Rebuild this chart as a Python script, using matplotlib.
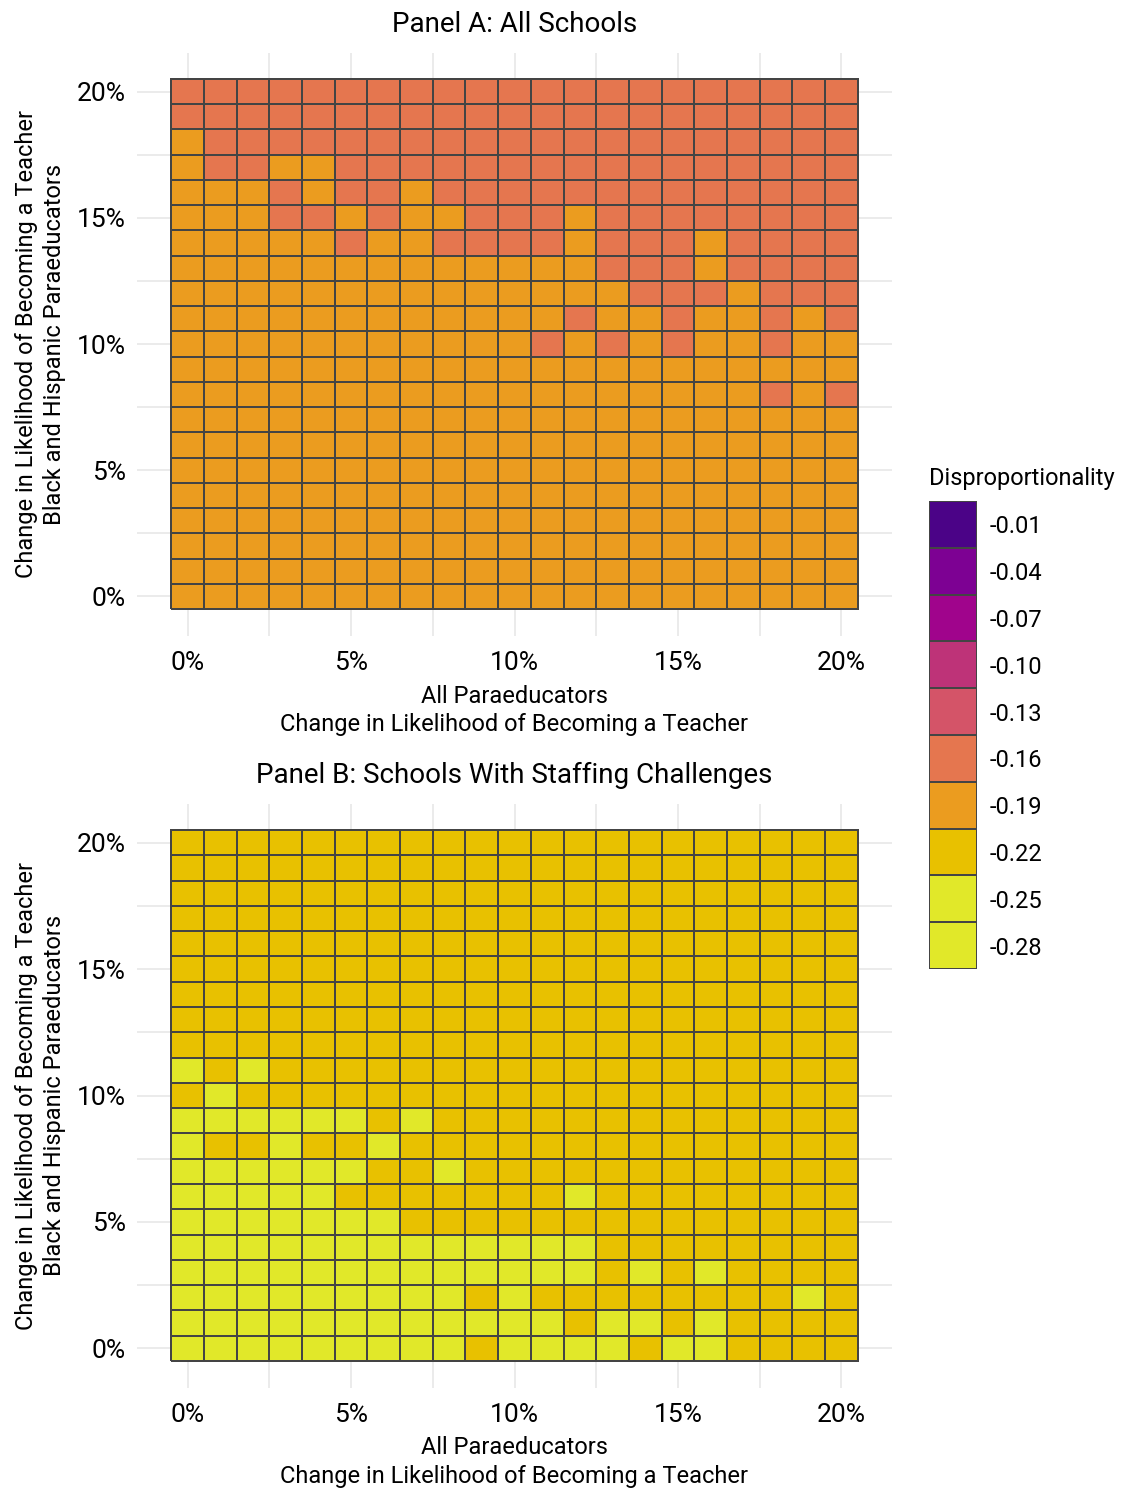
import numpy as np
import matplotlib
matplotlib.use("Agg")
import matplotlib.pyplot as plt
from matplotlib.colors import ListedColormap, BoundaryNorm
from matplotlib.ticker import FixedLocator, FuncFormatter

plt.rcParams["font.family"] = ["Roboto", "DejaVu Sans"]

# disproportionality levels, low to high, and their fill colours
levels = [-0.28, -0.25, -0.22, -0.19, -0.16, -0.13, -0.10, -0.07, -0.04, -0.01]
level_colors = ["#E1E829", "#E1E829", "#E8C100", "#EB9C1F", "#E5764F",
                "#D45468", "#BE3378", "#A0048C", "#7D0193", "#4B0387"]

# change in likelihood, percentage points (x: all paras, y: Black/Hispanic paras)
pct_steps = list(range(0, 21))

# each string is one row (y = 20% at top down to 0%), each digit an index into levels
panel_a_rows = [
    "444444444444444444444",
    "444444444444444444444",
    "344444444444444444444",
    "344334444444444444444",
    "333434434444444444444",
    "333443433444344444444",
    "333334334444344434444",
    "333333333333344434444",
    "333333333333334443444",
    "333333333333433433434",
    "333333333334343433433",
    "333333333333333333333",
    "333333333333333333434",
    "333333333333333333333",
    "333333333333333333333",
    "333333333333333333333",
    "333333333333333333333",
    "333333333333333333333",
    "333333333333333333333",
    "333333333333333333333",
    "333333333333333333333",
]

panel_b_rows = [
    "222222222222222222222",
    "222222222222222222222",
    "222222222222222222222",
    "222222222222222222222",
    "222222222222222222222",
    "222222222222222222222",
    "222222222222222222222",
    "222222222222222222222",
    "222222222222222222222",
    "121222222222222222222",
    "212222222222222222222",
    "111111212222222222222",
    "122122122222222222222",
    "111111221222222222222",
    "111112222222122222222",
    "111111122222222222222",
    "111111111111122222222",
    "111111111111121212222",
    "111111111212222222212",
    "111111111111211212222",
    "111111111211112112222",
]

panel_titles = ["Panel A: All Schools", "Panel B: Schools With Staffing Challenges"]

x_title = "All Paraeducators\nChange in Likelihood of Becoming a Teacher"
y_title = "Change in Likelihood of Becoming a Teacher\nBlack and Hispanic Paraeducators"


def rows_to_grid(rows):
    # flip so that the first array row is y = 0%
    idx = np.array([[int(c) for c in r] for r in rows[::-1]])
    return np.array(levels)[idx]


cmap = ListedColormap(level_colors)
bounds = [levels[0] - 0.015] + [l + 0.015 for l in levels]
norm = BoundaryNorm(bounds, cmap.N)

W, H = 1123, 1490
fig = plt.figure(figsize=(W / 100, H / 100), dpi=100)

grid_col = "#EBEBEB"
edge_col = "#444444"
edges = np.arange(-0.5, 21.5, 1.0)
pct_fmt = FuncFormatter(lambda v, p: f"{v:.0f}%")

panel_boxes = [(137, 52.5, 892, 635.5), (137, 803.5, 892, 1387.5)]

for rows, title, (x0, y0, x1, y1) in zip([panel_a_rows, panel_b_rows], panel_titles, panel_boxes):
    ax = fig.add_axes([x0 / W, 1 - y1 / H, (x1 - x0) / W, (y1 - y0) / H])
    ax.pcolormesh(edges, edges, rows_to_grid(rows), cmap=cmap, norm=norm,
                  edgecolors=edge_col, linewidth=1.3, zorder=2)
    ax.set_xlim(-1.55, 21.55)
    ax.set_ylim(-1.55, 21.55)

    for a in (ax.xaxis, ax.yaxis):
        a.set_major_locator(FixedLocator([0, 5, 10, 15, 20]))
        a.set_minor_locator(FixedLocator([2.5, 7.5, 12.5, 17.5]))
        a.set_major_formatter(pct_fmt)
    ax.grid(True, which="both", color=grid_col, linewidth=1.4, zorder=0)
    ax.set_axisbelow(True)
    for s in ax.spines.values():
        s.set_visible(False)
    ax.tick_params(which="both", length=0, labelsize=19, colors="black")
    ax.tick_params(axis="x", pad=11)
    ax.tick_params(axis="y", pad=8)

    ax.set_xlabel(x_title, fontsize=17, labelpad=7, linespacing=1.28)
    ax.set_ylabel(y_title, fontsize=17, linespacing=1.28)
    ax.yaxis.set_label_coords(-0.094, 0.5)
    ax.set_title(title, fontsize=20, pad=15)

# legend keys stacked as a column, -0.01 at the top
kx0, ky0, kx1, ky1 = 929, 501, 977, 969
kax = fig.add_axes([kx0 / W, 1 - ky1 / H, (kx1 - kx0) / W, (ky1 - ky0) / H])
key_vals = np.array(levels).reshape(-1, 1)
kax.pcolormesh([0, 1], np.arange(len(levels) + 1), key_vals, cmap=cmap, norm=norm,
               edgecolors=edge_col, linewidth=1.3)
kax.set_xlim(0, 1)
kax.set_ylim(0, len(levels))
kax.set_xticks([])
kax.yaxis.tick_right()
kax.set_yticks(np.arange(len(levels)) + 0.5)
kax.set_yticklabels([f"{l:.2f}" for l in levels])
kax.tick_params(length=0, labelsize=17, pad=9)
for s in kax.spines.values():
    s.set_visible(False)
fig.text(929 / W, 1 - 478 / H, "Disproportionality", fontsize=17,
         ha="left", va="center")

fig.savefig("out.png", dpi=100)
